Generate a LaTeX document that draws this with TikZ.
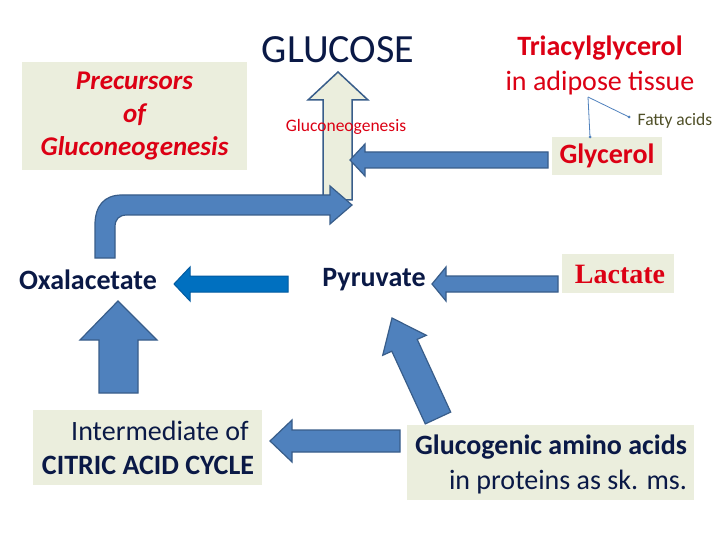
\documentclass[tikz,border=0pt]{standalone}
\usepackage{fontspec}
\setmainfont{Carlito}
\newfontfamily\serf{Liberation Serif}
\definecolor{ablue}{RGB}{79,129,189}
\definecolor{aline}{RGB}{56,93,138}
\definecolor{dblue}{RGB}{0,112,192}
\definecolor{dline}{RGB}{0,90,160}
\definecolor{pal}{RGB}{235,238,221}
\definecolor{navyc}{RGB}{10,25,70}
\definecolor{redc}{RGB}{220,0,20}
\definecolor{olive}{RGB}{80,80,40}
\begin{document}
\begin{tikzpicture}[x=1pt,y=-1pt,
  fat/.style={fill=ablue,draw=aline,line width=1.2pt,line join=miter},
  dark/.style={fill=dblue,draw=dline,line width=1pt},
  pale/.style={fill=pal,draw=aline,line width=1.5pt},
  box/.style={fill=pal,inner sep=0pt},
  navy/.style={text=navyc},
  redt/.style={text=redc},
  big/.style={font=\fontsize{28}{33}\selectfont},
  bigb/.style={font=\bfseries\fontsize{28}{33}\selectfont},
  thin/.style={draw=ablue,line width=0.8pt}]
\useasboundingbox (0,0) rectangle (720,540);
\fill[white] (0,0) rectangle (720,540);
% boxes
\node[box,minimum width=225pt,minimum height=108pt] (prec) at (134.5,116) {};
\node[redt,font=\bfseries\itshape\fontsize{27}{33}\selectfont,align=center] (prect) at (134.5,116) {Precursors\\of\\Gluconeogenesis};
\node[box,minimum width=110pt,minimum height=38pt] (glyb) at (607,156) {};
\node[redt,bigb] (gly) at (607,156) {Glycerol};
\node[box,minimum width=112pt,minimum height=39pt] (lacb) at (618,273.5) {};
\node[redt,font=\serf\bfseries\fontsize{28}{33}\selectfont] (lac) at (620,274) {Lactate};
\node[box,minimum width=229pt,minimum height=75pt] (intb) at (147.5,447.5) {};
\node[navy,big] (int1) at (160,431) {Intermediate of};
\node[navy,bigb] (int2) at (148,465) {CITRIC ACID CYCLE};
\node[box,minimum width=287pt,minimum height=75pt] (glub) at (550.5,462.5) {};
\node[navy,bigb] (glu1) at (551,447) {Glucogenic amino acids};
\node[navy,big] (glu2) at (568,482) {in proteins as sk. ms.};
% glucose up arrow
\draw[pale] (323,200) -- (323,100) -- (308,100) -- (338,72) -- (368,100) -- (352,100) -- (352,200) -- cycle;
\node[navy,font=\fontsize{40}{44}\selectfont] (glc) at (338,50) {GLUCOSE};
\node[redt,font=\fontsize{17.5}{20}\selectfont] (gng) at (346,127) {Gluconeogenesis};
\node[redt,bigb] (tag1) at (600,48) {Triacylglycerol};
\node[redt,big] (tag2) at (600,83) {in adipose tissue};
\node[font=\fontsize{17.5}{20}\selectfont,text=olive] (fa) at (675,121) {Fatty acids};
\coordinate (br) at (588,97);
\draw[thin] (br) -- (590,137);
\draw[thin] (br) -- (629,117);
\fill[ablue] (590,137) circle (1.5pt) (629,117) circle (1.5pt);
% glycerol arrow
\draw[fat] (548,152) -- (365,152) -- (365,144) -- (350,160) -- (365,176) -- (365,168) -- (548,168) -- cycle;
% curved arrow
\draw[fat] (95,258) -- (95,225) .. controls (95,206) and (104,195) .. (122,195) -- (330,195) -- (330,186) -- (352,205) -- (330,224) -- (330,215) -- (127,215) .. controls (119,215) and (115,219) .. (115,227) -- (115,258) -- cycle;
% bottom row
\node[navy,bigb] (oxa) at (88,280) {Oxalacetate};
\node[navy,bigb] (pyr) at (374,280) {Pyruvate};
\draw[dark] (288,276) -- (190,276) -- (190,267) -- (174,284) -- (190,301) -- (190,292) -- (288,292) -- cycle;
\draw[fat] (558,276) -- (446,276) -- (446,267) -- (432,284) -- (446,301) -- (446,292) -- (558,292) -- cycle;
\draw[fat] (99,393) -- (99,340) -- (80,340) -- (118,301) -- (157,340) -- (138,340) -- (138,393) -- cycle;
\draw[fat] (400,430) -- (292,430) -- (292,420) -- (270,441) -- (292,462) -- (292,452) -- (400,452) -- cycle;
\draw[fat] (450.7,412.1) -- (417.2,339.4) -- (426.3,335.3) -- (392,318) -- (382.7,355.3) -- (391.8,351.2) -- (425.3,423.9) -- cycle;
\end{tikzpicture}
\end{document}
